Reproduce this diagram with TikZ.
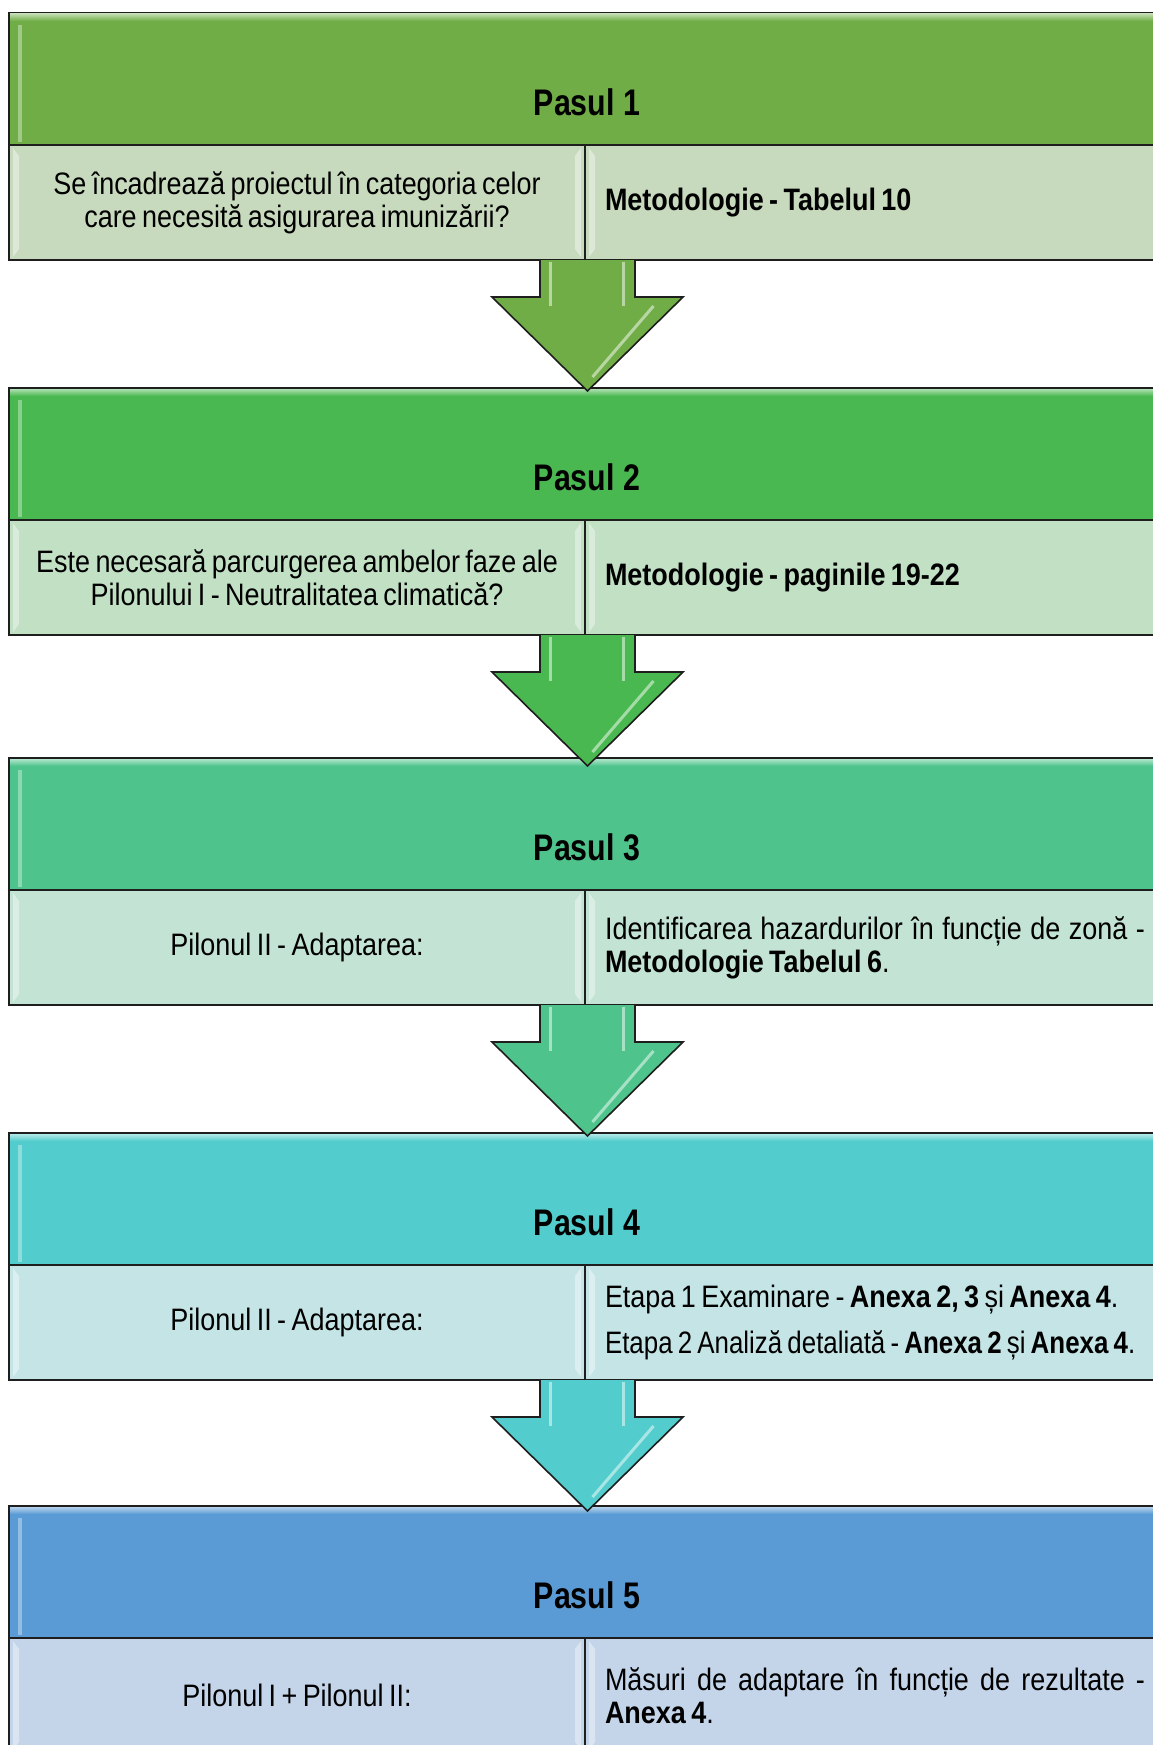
\documentclass[tikz,border=0pt]{standalone}
\usepackage{fontspec}
\usepackage{graphicx}
\setmainfont{Liberation Sans}[FakeStretch=0.87, WordSpace=0.72]
\newfontfamily\titlefam{Liberation Sans}[FakeStretch=0.82]
\usetikzlibrary{calc}
\definecolor{edge}{RGB}{30,30,30}
\definecolor{hA}{RGB}{112,173,71}
\definecolor{hB}{RGB}{74,184,80}
\definecolor{hC}{RGB}{78,196,140}
\definecolor{hD}{RGB}{82,204,204}
\definecolor{hE}{RGB}{91,155,213}
\definecolor{lA}{RGB}{200,218,189}
\definecolor{lB}{RGB}{193,224,196}
\definecolor{lC}{RGB}{195,228,213}
\definecolor{lD}{RGB}{196,228,230}
\definecolor{lE}{RGB}{196,213,234}
\newcommand\bodyfont{\fontsize{31}{33}\selectfont}
\newcommand\titlefont{\titlefam\fontsize{37}{40}\selectfont\bfseries}
\newcommand\Bevel[1]{%
  \fill[white,opacity=.4] ($(#1.north west)+(4,-3)$) -- ++(6,-8) -- ($(#1.south west)+(10,11)$) -- ++(-6,-8) -- cycle;
  \fill[white,opacity=.4] ($(#1.north east)+(-4,-3)$) -- ++(-6,-8) -- ($(#1.south east)+(-10,11)$) -- ++(6,-8) -- cycle;
}
\newcommand\PasBox[6]{%
  \node[hdr, fill=#3, anchor=north west] (h#1) at (9,-#2) {};
  \shade[top color=#3!45!white, bottom color=#3] ($(h#1.north west)+(1,-1)$) rectangle ($(h#1.north east)+(-1,-8)$);
  \fill[white,opacity=.35] ($(h#1.north west)+(9,-12)$) rectangle ($(h#1.south west)+(13,3)$);
  \node[cellL, fill=#4, anchor=north west] (l#1) at (h#1.south west) {#5};
  \node[cellR, fill=#4, anchor=north west] (r#1) at (l#1.north east) {\spaceskip=0pt\xspaceskip=0pt\relax #6};
  \node[title] (t#1) at ($(h#1.north)+(0,-89)$) {Pasul #1};
  \Bevel{l#1}\Bevel{r#1}
}
\newcommand\DownArrow[2]{%
  \coordinate (a#1) at ($(l#1.south east)+(2.5,0)$);
  \filldraw[arr, fill=#2] ($(a#1)+(-47.5,0)$) -- ++(0,-37) -- ++(-48,0) -- ($(a#1)+(0,-131)$) -- ($(a#1)+(95.5,-37)$) -- ++(-48,0) -- ($(a#1)+(47.5,0)$);
  \draw[shine] ($(a#1)+(-37,-2)$) -- ++(0,-44);
  \draw[shine] ($(a#1)+(36,-2)$) -- ++(0,-44);
  \draw[shine] ($(a#1)+(66,-46)$) -- ($(a#1)+(5,-117)$);
}
\begin{document}
\begin{tikzpicture}[x=1pt,y=1pt,
  box/.style={draw=edge, line width=1.8pt, outer sep=0pt, inner sep=0pt},
  hdr/.style={box, minimum width=1156, minimum height=132},
  cellL/.style={box, minimum width=576, minimum height=115, align=center, font=\bodyfont},
  cellR/.style={box, minimum width=580, minimum height=115, text width=540, inner xsep=20, align=left, font=\bodyfont},
  title/.style={font=\titlefont, inner sep=0pt},
  arr/.style={draw=edge, line width=1.6pt, line join=miter},
  shine/.style={white, opacity=.5, line width=3pt}]
\useasboundingbox (0,0) rectangle (1152,-1745);
\fill[white] (0,0) rectangle (1152,-1745);

\PasBox{1}{13}{hA}{lA}{Se încadrează proiectul în categoria celor\\care necesită asigurarea imunizării?}{\textbf{Metodologie - Tabelul 10}}
\PasBox{2}{388}{hB}{lB}{Este necesară parcurgerea ambelor faze ale\\Pilonului I - Neutralitatea climatică?}{\textbf{Metodologie - paginile 19-22}}
\PasBox{3}{758}{hC}{lC}{Pilonul II - Adaptarea:}{\makebox[540pt][s]{Identificarea hazardurilor în funcție de zonă -}\\\textbf{Metodologie Tabelul 6}.}
\PasBox{4}{1133}{hD}{lD}{Pilonul II - Adaptarea:}{\mbox{Etapa 1 Examinare - \textbf{Anexa 2, 3} și \textbf{Anexa 4}.}\\[13pt]\scalebox{0.96}[1]{Etapa 2 Analiză detaliată - \textbf{Anexa 2} și \textbf{Anexa 4}.}}
\PasBox{5}{1506}{hE}{lE}{Pilonul I + Pilonul II:}{\makebox[540pt][s]{Măsuri de adaptare în funcție de rezultate -}\\\textbf{Anexa 4}.}

\DownArrow{1}{hA}
\DownArrow{2}{hB}
\DownArrow{3}{hC}
\DownArrow{4}{hD}
\end{tikzpicture}
\end{document}
